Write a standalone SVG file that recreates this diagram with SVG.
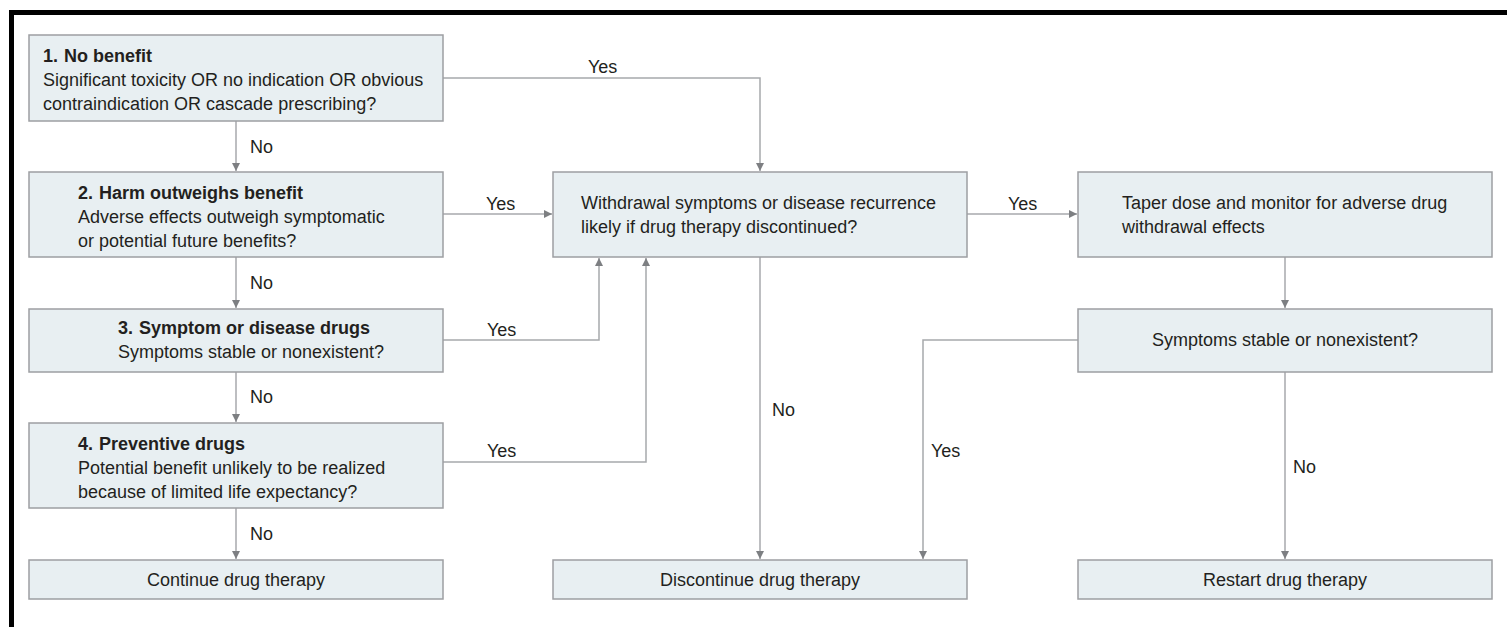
<svg xmlns="http://www.w3.org/2000/svg" width="1507" height="627" viewBox="0 0 1507 627">
  <defs>
    <marker id="arrow" viewBox="0 0 10 10" refX="10" refY="5" markerWidth="8" markerHeight="8" markerUnits="userSpaceOnUse" orient="auto">
      <path d="M0,0 L10,5 L0,10 z" fill="#7d7f82"/>
    </marker>
    <style>
      .box { fill: #e8eff2; stroke: #9d9fa2; stroke-width: 1.5; }
      .t { font-family: "Liberation Sans", Arial, sans-serif; font-size: 18px; fill: #231f20; }
      .h { font-weight: bold; }
      .c { text-anchor: middle; }
      .lbl { font-family: "Liberation Sans", Arial, sans-serif; font-size: 18px; fill: #231f20; }
      .edge { fill: none; stroke: #a7a9ac; stroke-width: 1.5; marker-end: url(#arrow); }
    </style>
  </defs>
  <rect width="1507" height="627" fill="#ffffff"/>

  <!-- frame -->
  <rect x="9" y="10" width="1498" height="5" fill="#000000"/>
  <rect x="9" y="10" width="5" height="617" fill="#000000"/>

  <!-- connectors -->
  <g id="connectors">
    <path class="edge" d="M443,78 H760 V171"/>
    <path class="edge" d="M236,121 V171"/>
    <path class="edge" d="M443,214 H552"/>
    <path class="edge" d="M236,257 V308"/>
    <path class="edge" d="M443,340 H599 V258"/>
    <path class="edge" d="M236,372 V422"/>
    <path class="edge" d="M443,462 H646 V258"/>
    <path class="edge" d="M236,508 V559"/>
    <path class="edge" d="M760,257 V559"/>
    <path class="edge" d="M967,214 H1077"/>
    <path class="edge" d="M1285,257 V308"/>
    <path class="edge" d="M1078,340 H923 V559"/>
    <path class="edge" d="M1285,372 V559"/>
    <text class="lbl" x="588" y="73">Yes</text>
    <text class="lbl" x="250" y="153">No</text>
    <text class="lbl" x="486" y="210">Yes</text>
    <text class="lbl" x="250" y="289">No</text>
    <text class="lbl" x="487" y="336">Yes</text>
    <text class="lbl" x="250" y="403">No</text>
    <text class="lbl" x="487" y="457">Yes</text>
    <text class="lbl" x="250" y="540">No</text>
    <text class="lbl" x="772" y="416">No</text>
    <text class="lbl" x="1008" y="210">Yes</text>
    <text class="lbl" x="931" y="457">Yes</text>
    <text class="lbl" x="1293" y="473">No</text>
  </g>

  <!-- left column -->
  <g id="no-benefit">
    <rect class="box" x="29" y="35" width="414" height="86"/>
    <text class="t h" x="43" y="62">1.<tspan dx="6">No benefit</tspan></text>
    <text class="t" x="43" y="86">Significant toxicity OR no indication OR obvious</text>
    <text class="t" x="43" y="110">contraindication OR cascade prescribing?</text>
  </g>
  <g id="harm-outweighs-benefit">
    <rect class="box" x="29" y="172" width="414" height="85"/>
    <text class="t h" x="78" y="199">2.<tspan dx="6">Harm outweighs benefit</tspan></text>
    <text class="t" x="78" y="223">Adverse effects outweigh symptomatic</text>
    <text class="t" x="78" y="247">or potential future benefits?</text>
  </g>
  <g id="symptom-disease-drugs">
    <rect class="box" x="29" y="309" width="414" height="63"/>
    <text class="t h" x="118" y="334">3.<tspan dx="6">Symptom or disease drugs</tspan></text>
    <text class="t" x="118" y="358">Symptoms stable or nonexistent?</text>
  </g>
  <g id="preventive-drugs">
    <rect class="box" x="29" y="423" width="414" height="85"/>
    <text class="t h" x="78" y="450">4.<tspan dx="6">Preventive drugs</tspan></text>
    <text class="t" x="78" y="474">Potential benefit unlikely to be realized</text>
    <text class="t" x="78" y="498">because of limited life expectancy?</text>
  </g>
  <g id="continue-therapy">
    <rect class="box" x="29" y="560" width="414" height="39"/>
    <text class="t c" x="236" y="586">Continue drug therapy</text>
  </g>

  <!-- middle column -->
  <g id="withdrawal-likely">
    <rect class="box" x="553" y="172" width="414" height="85"/>
    <text class="t" x="581" y="209">Withdrawal symptoms or disease recurrence</text>
    <text class="t" x="581" y="233">likely if drug therapy discontinued?</text>
  </g>
  <g id="discontinue-therapy">
    <rect class="box" x="553" y="560" width="414" height="39"/>
    <text class="t c" x="760" y="586">Discontinue drug therapy</text>
  </g>

  <!-- right column -->
  <g id="taper-dose">
    <rect class="box" x="1078" y="172" width="414" height="85"/>
    <text class="t" x="1122" y="209">Taper dose and monitor for adverse drug</text>
    <text class="t" x="1122" y="233">withdrawal effects</text>
  </g>
  <g id="symptoms-stable">
    <rect class="box" x="1078" y="309" width="414" height="63"/>
    <text class="t c" x="1285" y="346">Symptoms stable or nonexistent?</text>
  </g>
  <g id="restart-therapy">
    <rect class="box" x="1078" y="560" width="414" height="39"/>
    <text class="t c" x="1285" y="586">Restart drug therapy</text>
  </g>
</svg>
